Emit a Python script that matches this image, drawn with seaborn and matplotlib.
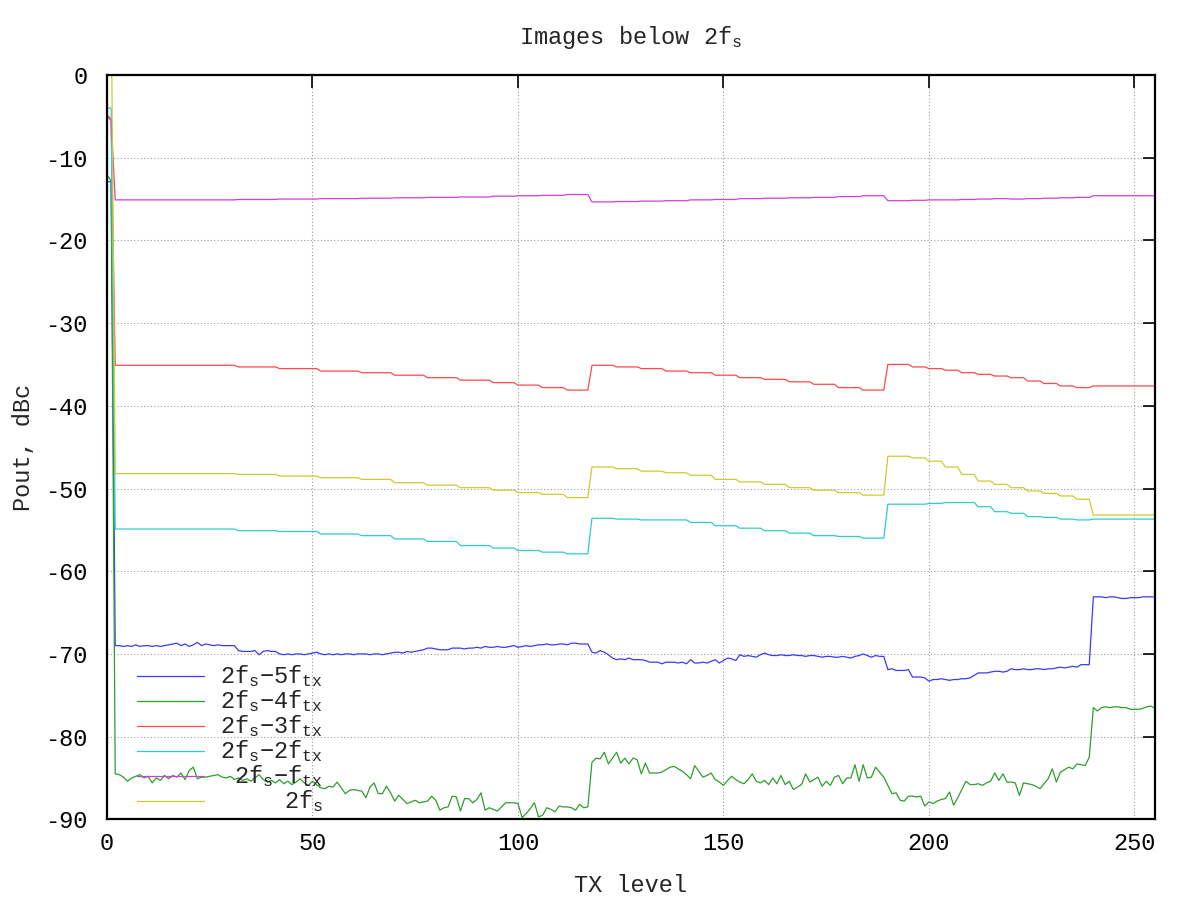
import numpy as np
import pandas as pd
import matplotlib
matplotlib.use("Agg")
import matplotlib.pyplot as plt
import seaborn as sns
from matplotlib.lines import Line2D

# ---------------- data ----------------
tx_level = np.arange(256)

series_names = [r"2f$_{s}$−5f$_{tx}$", r"2f$_{s}$−4f$_{tx}$", r"2f$_{s}$−3f$_{tx}$",
                r"2f$_{s}$−2f$_{tx}$", r"2f$_{s}$−f$_{tx}$", r"2f$_{s}$"]
series_colors = ["#3a3aff", "#2e9e2e", "#ff4a4a", "#30cccc", "#d040d0", "#cccc30"]

img_5ftx = [
    -12.9, -12.9, -69.0, -69.0, -69.1, -69.0, -69.1, -68.9, -69.1, -69.0, -69.0, -69.1, -69.0, -69.1, -69.0, -68.9,
    -68.8, -68.7, -69.0, -68.8, -69.1, -68.9, -68.6, -69.0, -68.8, -68.9, -69.0, -68.9, -69.0, -69.0, -69.0, -69.0,
    -69.6, -69.7, -69.7, -69.7, -69.6, -70.1, -69.7, -69.6, -69.7, -69.7, -70.0, -70.1, -70.0, -70.1, -70.0, -70.0,
    -70.1, -70.0, -69.9, -69.8, -70.0, -70.1, -70.0, -70.1, -70.0, -70.1, -70.0, -70.0, -70.1, -70.0, -70.0, -70.0,
    -70.1, -70.0, -70.0, -70.1, -70.0, -69.9, -69.8, -69.8, -69.9, -69.7, -69.8, -69.7, -69.6, -69.5, -69.3, -69.3,
    -69.4, -69.5, -69.5, -69.5, -69.3, -69.3, -69.3, -69.4, -69.3, -69.3, -69.2, -69.3, -69.1, -69.2, -69.2, -69.1,
    -69.2, -69.2, -69.1, -69.0, -69.2, -69.1, -69.0, -69.1, -69.0, -68.9, -68.9, -68.8, -68.9, -68.9, -68.8, -68.8,
    -68.9, -68.7, -68.7, -68.8, -68.8, -68.8, -69.8, -69.9, -69.6, -69.8, -70.1, -70.5, -70.7, -70.6, -70.7, -70.5,
    -70.7, -70.7, -70.7, -70.8, -71.0, -71.0, -71.0, -71.2, -71.0, -71.0, -71.0, -71.1, -71.0, -71.2, -70.7, -71.1,
    -71.1, -71.0, -71.1, -70.9, -70.7, -71.1, -70.8, -70.5, -70.6, -70.8, -70.1, -70.3, -70.2, -70.3, -70.4, -70.1,
    -69.9, -70.1, -70.2, -70.2, -70.1, -70.2, -70.2, -70.1, -70.2, -70.2, -70.3, -70.2, -70.2, -70.3, -70.4, -70.3,
    -70.3, -70.4, -70.4, -70.3, -70.4, -70.5, -70.3, -70.2, -70.0, -70.2, -70.4, -70.2, -70.3, -70.3, -71.9, -71.8,
    -72.0, -72.0, -72.0, -71.9, -72.8, -72.8, -72.8, -72.9, -73.3, -73.1, -73.1, -73.0, -73.1, -73.2, -73.1, -73.1,
    -73.0, -73.0, -72.9, -72.6, -72.3, -72.3, -72.3, -72.2, -72.1, -72.1, -72.2, -72.1, -71.8, -71.9, -71.9, -71.8,
    -71.9, -71.9, -71.8, -71.8, -71.9, -71.8, -71.8, -71.7, -71.6, -71.7, -71.6, -71.5, -71.6, -71.3, -71.3, -71.3,
    -63.1, -63.1, -63.1, -63.2, -63.1, -63.1, -63.2, -63.3, -63.3, -63.2, -63.2, -63.2, -63.1, -63.1, -63.1, -63.1,
]

img_4ftx = [
    -12.1, -12.8, -84.5, -84.6, -84.9, -85.4, -85.0, -84.8, -84.6, -85.0, -84.8, -85.6, -85.0, -85.3, -84.7, -85.1,
    -84.7, -84.9, -84.4, -85.2, -84.1, -83.7, -85.1, -84.9, -84.9, -84.8, -84.7, -84.6, -84.9, -85.0, -84.8, -85.2,
    -85.0, -85.3, -85.1, -85.4, -85.0, -84.6, -85.2, -85.5, -85.3, -85.6, -85.2, -85.7, -85.4, -85.8, -85.5, -85.1,
    -85.6, -85.9, -85.4, -85.8, -86.2, -86.3, -86.0, -86.1, -85.5, -86.2, -86.9, -86.5, -86.4, -86.5, -86.6, -87.4,
    -86.1, -85.6, -86.9, -86.9, -86.0, -86.8, -87.8, -87.1, -87.6, -88.1, -87.9, -87.7, -88.0, -87.9, -87.8, -87.2,
    -87.7, -88.9, -88.6, -88.5, -87.2, -87.3, -89.0, -87.5, -87.5, -88.0, -87.6, -86.8, -88.9, -88.6, -88.8, -89.0,
    -88.5, -88.0, -88.0, -88.0, -88.1, -89.8, -89.3, -88.7, -88.0, -89.7, -89.5, -88.6, -88.8, -89.1, -88.4, -88.5,
    -88.5, -88.6, -88.9, -88.2, -88.6, -88.5, -83.1, -82.6, -82.7, -81.9, -83.3, -82.6, -81.9, -83.2, -82.6, -83.3,
    -82.6, -82.8, -84.5, -83.2, -84.4, -84.4, -84.4, -84.3, -84.0, -83.7, -83.6, -83.9, -84.2, -84.6, -85.1, -83.5,
    -84.2, -84.9, -84.7, -84.4, -85.2, -85.5, -85.9, -85.3, -84.8, -85.2, -85.5, -85.7, -85.2, -84.5, -85.4, -85.6,
    -85.3, -85.8, -85.0, -85.7, -84.7, -85.8, -85.4, -86.4, -86.1, -85.8, -84.5, -85.5, -85.2, -84.9, -86.0, -85.4,
    -85.9, -84.9, -84.7, -85.7, -85.0, -85.0, -83.4, -85.4, -83.4, -85.0, -84.9, -83.7, -84.3, -84.9, -85.9, -86.9,
    -86.8, -87.7, -87.8, -87.2, -87.2, -87.3, -87.2, -88.4, -87.9, -88.1, -87.8, -87.6, -87.5, -86.7, -88.3, -87.4,
    -86.4, -85.4, -85.8, -85.8, -85.7, -85.9, -85.6, -85.4, -84.4, -85.3, -84.5, -85.5, -85.5, -85.6, -87.1, -85.6,
    -85.7, -85.8, -86.0, -86.3, -85.7, -85.1, -83.9, -85.5, -84.3, -84.0, -83.7, -83.9, -83.3, -83.4, -83.5, -82.5,
    -76.5, -76.9, -76.5, -76.4, -76.5, -76.4, -76.4, -76.5, -76.5, -76.7, -76.7, -76.7, -76.6, -76.4, -76.3, -76.6,
]

img_3ftx = [
    -5.0, -5.5, -35.1, -35.1, -35.1, -35.1, -35.1, -35.1, -35.1, -35.1, -35.1, -35.1, -35.1, -35.1, -35.1, -35.1,
    -35.1, -35.1, -35.1, -35.1, -35.1, -35.1, -35.1, -35.1, -35.1, -35.1, -35.1, -35.1, -35.1, -35.1, -35.1, -35.1,
    -35.3, -35.3, -35.3, -35.3, -35.3, -35.3, -35.3, -35.3, -35.3, -35.3, -35.5, -35.5, -35.5, -35.5, -35.5, -35.5,
    -35.5, -35.5, -35.5, -35.5, -35.8, -35.8, -35.8, -35.8, -35.8, -35.8, -35.8, -35.8, -35.8, -35.8, -36.0, -36.0,
    -36.0, -36.0, -36.0, -36.0, -36.0, -36.0, -36.3, -36.3, -36.3, -36.3, -36.3, -36.3, -36.3, -36.3, -36.6, -36.6,
    -36.6, -36.6, -36.6, -36.6, -36.6, -36.6, -36.9, -36.9, -36.9, -36.9, -36.9, -36.9, -36.9, -36.9, -37.2, -37.2,
    -37.2, -37.2, -37.2, -37.2, -37.5, -37.5, -37.5, -37.5, -37.5, -37.5, -37.8, -37.8, -37.8, -37.8, -37.8, -37.8,
    -38.1, -38.1, -38.1, -38.1, -38.1, -38.1, -35.1, -35.1, -35.1, -35.1, -35.1, -35.1, -35.3, -35.3, -35.3, -35.3,
    -35.3, -35.3, -35.5, -35.5, -35.5, -35.5, -35.5, -35.5, -35.8, -35.8, -35.8, -35.8, -35.8, -35.8, -36.0, -36.0,
    -36.0, -36.0, -36.0, -36.0, -36.3, -36.3, -36.3, -36.3, -36.3, -36.3, -36.6, -36.6, -36.6, -36.6, -36.6, -36.6,
    -36.8, -36.8, -36.8, -36.8, -36.8, -36.8, -37.1, -37.1, -37.1, -37.1, -37.1, -37.1, -37.4, -37.4, -37.4, -37.4,
    -37.4, -37.4, -37.8, -37.8, -37.8, -37.8, -37.8, -37.8, -38.1, -38.1, -38.1, -38.1, -38.1, -38.1, -35.0, -35.0,
    -35.0, -35.0, -35.0, -35.0, -35.3, -35.3, -35.3, -35.3, -35.5, -35.5, -35.5, -35.5, -35.7, -35.7, -35.7, -35.7,
    -36.0, -36.0, -36.0, -36.0, -36.2, -36.2, -36.2, -36.2, -36.4, -36.4, -36.4, -36.4, -36.6, -36.6, -36.6, -36.6,
    -37.0, -37.0, -37.0, -37.0, -37.3, -37.3, -37.3, -37.3, -37.6, -37.6, -37.6, -37.6, -37.8, -37.8, -37.8, -37.8,
    -37.6, -37.6, -37.6, -37.6, -37.6, -37.6, -37.6, -37.6, -37.6, -37.6, -37.6, -37.6, -37.6, -37.6, -37.6, -37.6,
]

img_2ftx = [
    -4.0, -4.0, -54.9, -54.9, -54.9, -54.9, -54.9, -54.9, -54.9, -54.9, -54.9, -54.9, -54.9, -54.9, -54.9, -54.9,
    -54.9, -54.9, -54.9, -54.9, -54.9, -54.9, -54.9, -54.9, -54.9, -54.9, -54.9, -54.9, -54.9, -54.9, -54.9, -54.9,
    -55.1, -55.1, -55.1, -55.1, -55.1, -55.1, -55.1, -55.1, -55.1, -55.1, -55.2, -55.2, -55.2, -55.2, -55.2, -55.2,
    -55.2, -55.2, -55.2, -55.2, -55.5, -55.5, -55.5, -55.5, -55.5, -55.5, -55.5, -55.5, -55.5, -55.5, -55.7, -55.7,
    -55.7, -55.7, -55.7, -55.7, -55.7, -55.7, -56.1, -56.1, -56.1, -56.1, -56.1, -56.1, -56.1, -56.1, -56.4, -56.4,
    -56.4, -56.4, -56.4, -56.4, -56.4, -56.4, -56.9, -56.9, -56.9, -56.9, -56.9, -56.9, -56.9, -56.9, -57.2, -57.2,
    -57.2, -57.2, -57.2, -57.2, -57.5, -57.5, -57.5, -57.5, -57.5, -57.5, -57.7, -57.7, -57.7, -57.7, -57.7, -57.7,
    -57.9, -57.9, -57.9, -57.9, -57.9, -57.9, -53.6, -53.6, -53.6, -53.6, -53.6, -53.6, -53.7, -53.7, -53.7, -53.7,
    -53.7, -53.7, -53.8, -53.8, -53.8, -53.8, -53.8, -53.8, -53.8, -53.8, -53.8, -53.8, -53.8, -53.8, -54.1, -54.1,
    -54.1, -54.1, -54.1, -54.1, -54.5, -54.5, -54.5, -54.5, -54.5, -54.5, -54.8, -54.8, -54.8, -54.8, -54.8, -54.8,
    -55.1, -55.1, -55.1, -55.1, -55.1, -55.1, -55.4, -55.4, -55.4, -55.4, -55.4, -55.4, -55.7, -55.7, -55.7, -55.7,
    -55.7, -55.7, -55.8, -55.8, -55.8, -55.8, -55.8, -55.8, -56.0, -56.0, -56.0, -56.0, -56.0, -56.0, -51.9, -51.9,
    -51.9, -51.9, -51.9, -51.9, -51.9, -51.9, -51.9, -51.9, -51.8, -51.8, -51.8, -51.8, -51.7, -51.7, -51.7, -51.7,
    -51.7, -51.7, -51.7, -51.7, -52.2, -52.2, -52.2, -52.2, -52.8, -52.8, -52.8, -52.8, -53.0, -53.0, -53.0, -53.0,
    -53.4, -53.4, -53.4, -53.4, -53.5, -53.5, -53.5, -53.5, -53.7, -53.7, -53.7, -53.7, -53.8, -53.8, -53.8, -53.8,
    -53.7, -53.7, -53.7, -53.7, -53.7, -53.7, -53.7, -53.7, -53.7, -53.7, -53.7, -53.7, -53.7, -53.7, -53.7, -53.7,
]

img_1ftx = [
    -4.8, -5.4, -15.1, -15.1, -15.1, -15.1, -15.1, -15.1, -15.1, -15.1, -15.1, -15.1, -15.1, -15.1, -15.1, -15.1,
    -15.1, -15.1, -15.1, -15.1, -15.1, -15.1, -15.1, -15.1, -15.1, -15.1, -15.1, -15.1, -15.1, -15.1, -15.1, -15.1,
    -15.05, -15.05, -15.05, -15.05, -15.05, -15.05, -15.05, -15.05, -15.05, -15.05, -15.0, -15.0, -15.0, -15.0, -15.0, -15.0,
    -15.0, -15.0, -15.0, -15.0, -14.95, -14.95, -14.95, -14.95, -14.95, -14.95, -14.95, -14.95, -14.95, -14.95, -14.9, -14.9,
    -14.9, -14.9, -14.9, -14.9, -14.9, -14.9, -14.85, -14.85, -14.85, -14.85, -14.85, -14.85, -14.85, -14.85, -14.8, -14.8,
    -14.8, -14.8, -14.8, -14.8, -14.8, -14.8, -14.75, -14.75, -14.75, -14.75, -14.75, -14.75, -14.75, -14.75, -14.65, -14.65,
    -14.65, -14.65, -14.65, -14.65, -14.6, -14.6, -14.6, -14.6, -14.6, -14.6, -14.55, -14.55, -14.55, -14.55, -14.55, -14.55,
    -14.45, -14.45, -14.45, -14.45, -14.45, -14.45, -15.35, -15.35, -15.35, -15.35, -15.35, -15.35, -15.3, -15.3, -15.3, -15.3,
    -15.3, -15.3, -15.25, -15.25, -15.25, -15.25, -15.25, -15.25, -15.2, -15.2, -15.2, -15.2, -15.2, -15.2, -15.1, -15.1,
    -15.1, -15.1, -15.1, -15.1, -15.05, -15.05, -15.05, -15.05, -15.05, -15.05, -14.95, -14.95, -14.95, -14.95, -14.95, -14.95,
    -14.9, -14.9, -14.9, -14.9, -14.9, -14.9, -14.85, -14.85, -14.85, -14.85, -14.85, -14.85, -14.8, -14.8, -14.8, -14.8,
    -14.8, -14.8, -14.7, -14.7, -14.7, -14.7, -14.7, -14.7, -14.6, -14.6, -14.6, -14.6, -14.6, -14.6, -15.2, -15.2,
    -15.2, -15.2, -15.2, -15.2, -15.15, -15.15, -15.15, -15.15, -15.1, -15.1, -15.1, -15.1, -15.1, -15.1, -15.1, -15.1,
    -15.05, -15.05, -15.05, -15.05, -15.0, -15.0, -15.0, -15.0, -14.95, -14.95, -14.95, -14.95, -15.0, -15.0, -15.0, -15.0,
    -14.95, -14.95, -14.95, -14.95, -14.9, -14.9, -14.9, -14.9, -14.85, -14.85, -14.85, -14.85, -14.8, -14.8, -14.8, -14.8,
    -14.6, -14.6, -14.6, -14.6, -14.6, -14.6, -14.6, -14.6, -14.6, -14.6, -14.6, -14.6, -14.6, -14.6, -14.6, -14.6,
]

img_2fs = [
    8.0, 10.0, -48.2, -48.2, -48.2, -48.2, -48.2, -48.2, -48.2, -48.2, -48.2, -48.2, -48.2, -48.2, -48.2, -48.2,
    -48.2, -48.2, -48.2, -48.2, -48.2, -48.2, -48.2, -48.2, -48.2, -48.2, -48.2, -48.2, -48.2, -48.2, -48.2, -48.2,
    -48.3, -48.3, -48.3, -48.3, -48.3, -48.3, -48.3, -48.3, -48.3, -48.3, -48.5, -48.5, -48.5, -48.5, -48.5, -48.5,
    -48.5, -48.5, -48.5, -48.5, -48.7, -48.7, -48.7, -48.7, -48.7, -48.7, -48.7, -48.7, -48.7, -48.7, -48.9, -48.9,
    -48.9, -48.9, -48.9, -48.9, -48.9, -48.9, -49.3, -49.3, -49.3, -49.3, -49.3, -49.3, -49.3, -49.3, -49.6, -49.6,
    -49.6, -49.6, -49.6, -49.6, -49.6, -49.6, -49.9, -49.9, -49.9, -49.9, -49.9, -49.9, -49.9, -49.9, -50.2, -50.2,
    -50.2, -50.2, -50.2, -50.2, -50.5, -50.5, -50.5, -50.5, -50.5, -50.5, -50.7, -50.7, -50.7, -50.7, -50.7, -50.7,
    -51.1, -51.1, -51.1, -51.1, -51.1, -51.1, -47.4, -47.4, -47.4, -47.4, -47.4, -47.4, -47.6, -47.6, -47.6, -47.6,
    -47.6, -47.6, -47.9, -47.9, -47.9, -47.9, -47.9, -47.9, -48.1, -48.1, -48.1, -48.1, -48.1, -48.1, -48.4, -48.4,
    -48.4, -48.4, -48.4, -48.4, -48.9, -48.9, -48.9, -48.9, -48.9, -48.9, -49.2, -49.2, -49.2, -49.2, -49.2, -49.2,
    -49.5, -49.5, -49.5, -49.5, -49.5, -49.5, -49.9, -49.9, -49.9, -49.9, -49.9, -49.9, -50.2, -50.2, -50.2, -50.2,
    -50.2, -50.2, -50.5, -50.5, -50.5, -50.5, -50.5, -50.5, -50.8, -50.8, -50.8, -50.8, -50.8, -50.8, -46.1, -46.1,
    -46.1, -46.1, -46.1, -46.1, -46.3, -46.3, -46.3, -46.3, -46.7, -46.7, -46.7, -46.7, -47.4, -47.4, -47.4, -47.4,
    -48.3, -48.3, -48.3, -48.3, -49.1, -49.1, -49.1, -49.1, -49.5, -49.5, -49.5, -49.5, -49.9, -49.9, -49.9, -49.9,
    -50.3, -50.3, -50.3, -50.3, -50.6, -50.6, -50.6, -50.6, -50.9, -50.9, -50.9, -50.9, -51.3, -51.3, -51.3, -51.3,
    -53.2, -53.2, -53.2, -53.2, -53.2, -53.2, -53.2, -53.2, -53.2, -53.2, -53.2, -53.2, -53.2, -53.2, -53.2, -53.2,
]

x_ticks = [0, 50, 100, 150, 200, 250]
y_ticks = [0, -10, -20, -30, -40, -50, -60, -70, -80, -90]

# ---------------- style ----------------
sns.set_style("white")
plt.rcParams["font.family"] = ["Liberation Mono", "DejaVu Sans"]
plt.rcParams["mathtext.fontset"] = "custom"
plt.rcParams["mathtext.rm"] = "Liberation Mono"
plt.rcParams["mathtext.it"] = "Liberation Mono"
plt.rcParams["mathtext.default"] = "regular"
plt.rcParams["axes.unicode_minus"] = False

all_series = [img_5ftx, img_4ftx, img_3ftx, img_2ftx, img_1ftx, img_2fs]
frames = []
for name, vals in zip(series_names, all_series):
    frames.append(pd.DataFrame({"TX level": tx_level, "Pout": vals, "series": name}))
df = pd.concat(frames, ignore_index=True)

fig = plt.figure(figsize=(12, 9), dpi=100)
ax = fig.add_axes([107.0 / 1200, 1 - 819.3 / 900, 1048.0 / 1200, 744.3 / 900])

sns.lineplot(data=df, x="TX level", y="Pout", hue="series", hue_order=series_names,
             palette=dict(zip(series_names, series_colors)), legend=False,
             linewidth=0.9, errorbar=None, sort=False, ax=ax)

ax.set_xlim(0, 255)
ax.set_ylim(-90, 0)
ax.set_xticks(x_ticks)
ax.set_yticks(y_ticks)
ax.set_axisbelow(True)
ax.grid(True, color="#9a9a9a", linestyle=(0, (1, 2)), linewidth=0.8)
for s in ax.spines.values():
    s.set_visible(True)
    s.set_color("black")
    s.set_linewidth(1.6)
ax.tick_params(axis="both", which="major", direction="in", length=9, width=1.2,
               top=True, right=True, labelsize=17, pad=9, colors="black")
ax.tick_params(axis="y", pad=14)

ax.set_xlabel("TX level", fontsize=17, labelpad=14)
ax.set_ylabel("Pout, dBc", fontsize=17, labelpad=7)
ax.set_title(r"Images below 2f$_{s}$", fontsize=17, pad=22)

# legend (gnuplot style: sample first, right-justified text)
y0 = 0.1925
dy = 0.0336
for i, (name, col) in enumerate(zip(series_names, series_colors)):
    y = y0 - i * dy
    ax.add_line(Line2D([0.0286, 0.0926], [y, y], transform=ax.transAxes,
                       color=col, linewidth=0.9))
    ax.text(0.206, y - 0.0094, name, transform=ax.transAxes, ha="right",
            va="baseline", fontsize=17)

fig.savefig("out.png", dpi=100, facecolor="white")
